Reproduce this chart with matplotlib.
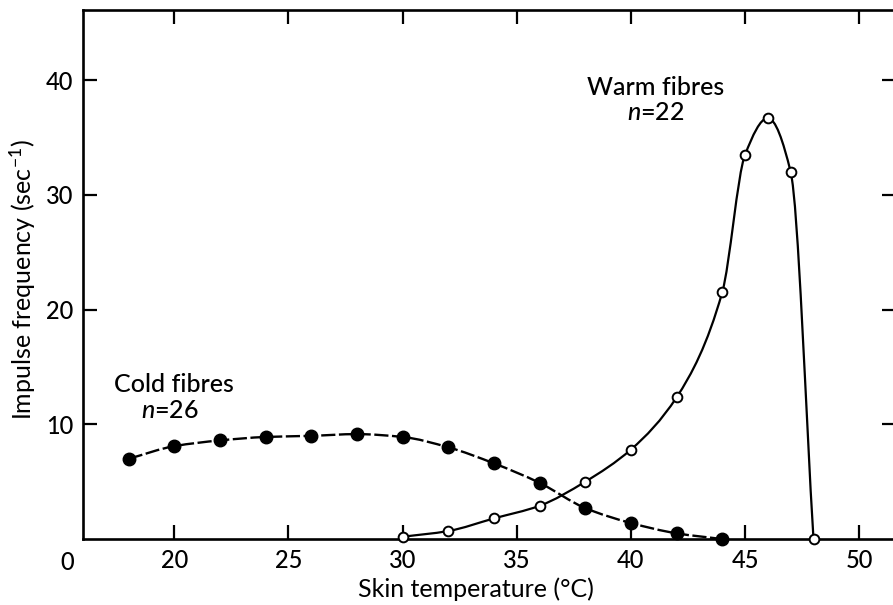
import numpy as np
import matplotlib
matplotlib.use("Agg")
import matplotlib.pyplot as plt
from matplotlib.path import Path
from matplotlib.patches import PathPatch

plt.rcParams['font.family'] = ['Lato', 'DejaVu Sans']
plt.rcParams['font.weight'] = 'medium'
plt.rcParams['mathtext.fontset'] = 'custom'
plt.rcParams['mathtext.rm'] = 'Lato:medium'
plt.rcParams['mathtext.it'] = 'Lato:italic:medium'

# data
cold_temp = [18, 20, 22, 24, 26, 28, 30, 32, 34, 36, 38, 40, 42, 44]
cold_freq = [7.0, 8.1, 8.6, 8.9, 9.0, 9.15, 8.9, 8.0, 6.6, 4.9, 2.7, 1.4, 0.5, 0.0]
warm_temp = [30, 32, 34, 36, 38, 40, 42, 44, 45, 46, 47, 48]
warm_freq = [0.2, 0.7, 1.8, 2.9, 5.0, 7.8, 12.35, 21.5, 33.5, 36.7, 32.0, 0.0]

xticks = [20, 25, 30, 35, 40, 45, 50]
yticks = [10, 20, 30, 40]


def pchip_slopes(x, y):
    h = np.diff(x)
    d = np.diff(y) / h
    m = np.zeros_like(y)
    for k in range(1, len(x) - 1):
        if d[k - 1] * d[k] <= 0:
            m[k] = 0.0
        else:
            w1 = 2 * h[k] + h[k - 1]
            w2 = h[k] + 2 * h[k - 1]
            m[k] = (w1 + w2) / (w1 / d[k - 1] + w2 / d[k])
    m[0] = d[0]
    m[-1] = d[-1]
    return m


def smooth_path(xs, ys):
    # monotone cubic through the points, drawn as bezier segments
    xs = np.asarray(xs, float)
    ys = np.asarray(ys, float)
    m = pchip_slopes(xs, ys)
    verts = [(xs[0], ys[0])]
    codes = [Path.MOVETO]
    for i in range(len(xs) - 1):
        h = xs[i + 1] - xs[i]
        verts += [(xs[i] + h / 3, ys[i] + m[i] * h / 3),
                  (xs[i + 1] - h / 3, ys[i + 1] - m[i + 1] * h / 3),
                  (xs[i + 1], ys[i + 1])]
        codes += [Path.CURVE4] * 3
    return Path(verts, codes)


fig = plt.figure(figsize=(8.93, 6.05), dpi=100)
ax = fig.add_axes([0.093, 0.109, 0.910, 0.874])

ax.add_patch(PathPatch(smooth_path(cold_temp, cold_freq), fill=False,
                       lw=1.7, ls=(0, (6, 1.5)), color='black', clip_on=False))
ax.add_patch(PathPatch(smooth_path(warm_temp, warm_freq), fill=False,
                       lw=1.6, color='black', clip_on=False))
ax.plot(cold_temp, cold_freq, 'o', ms=9, color='black', clip_on=False, zorder=3)
ax.plot(warm_temp, warm_freq, 'o', ms=7, mfc='white', mec='black', mew=1.4,
        clip_on=False, zorder=3)

ax.set_xlim(16, 51.6)
ax.set_ylim(0, 46.1)
ax.set_xticks(xticks)
ax.set_yticks(yticks)
ax.tick_params(direction='in', top=True, right=True, length=10, width=1.6,
               labelsize=17, pad=7)
for s in ax.spines.values():
    s.set_linewidth(1.9)

ax.text(-0.019, -0.045, '0', transform=ax.transAxes, ha='center', va='center',
        fontsize=17)

ax.set_xlabel('Skin temperature (°C)', fontsize=18)
ax.xaxis.set_label_coords(0.484, -0.073)
ax.set_ylabel('Impulse frequency (sec$^{-1}$)', fontsize=18)
ax.yaxis.set_label_coords(-0.056, 0.49)

ax.text(41.1, 39.4, 'Warm fibres', ha='center', va='center', fontsize=18)
ax.text(41.1, 37.2, '$n$=22', ha='center', va='center', fontsize=18)
ax.text(20.0, 13.5, 'Cold fibres', ha='center', va='center', fontsize=18)
ax.text(19.8, 11.2, '$n$=26', ha='center', va='center', fontsize=18)

fig.savefig('out.png', dpi=100)
